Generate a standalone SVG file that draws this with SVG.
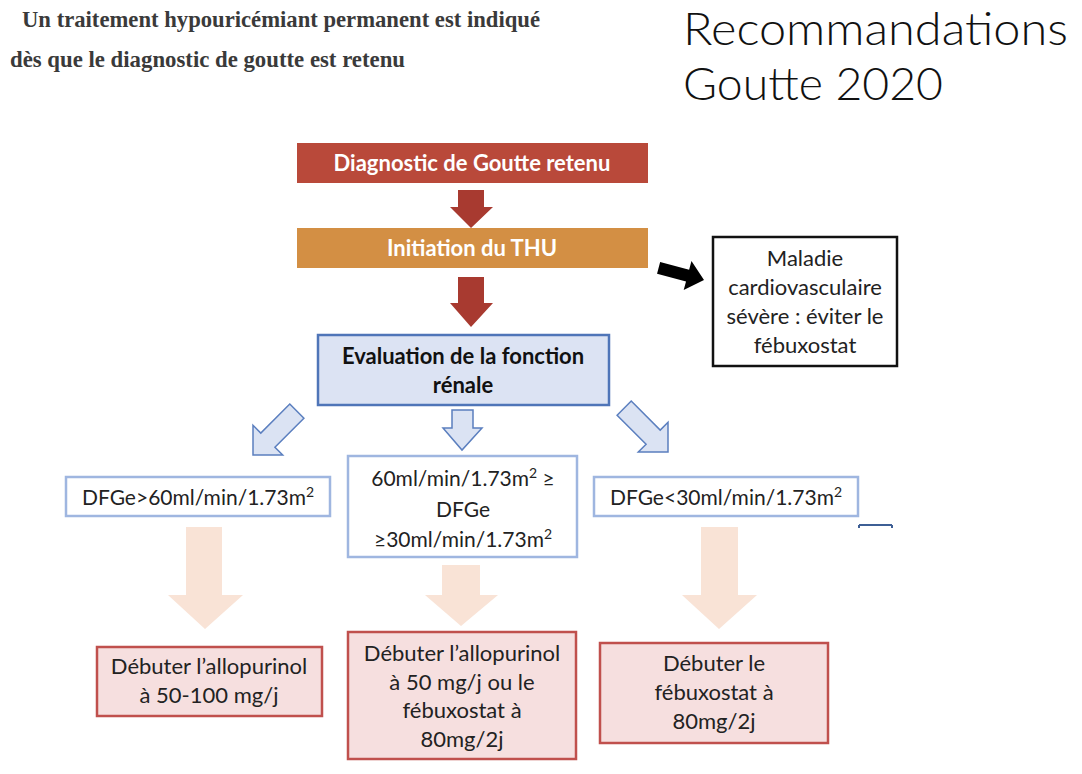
<svg xmlns="http://www.w3.org/2000/svg" width="1082" height="774" viewBox="0 0 1082 774">
<defs>
<style>
.serif{font-family:"Liberation Serif","DejaVu Serif",serif;font-weight:bold;fill:#3a3a3a;font-size:22.5px}
.title{font-family:Lato,"Open Sans",sans-serif;font-weight:300;font-size:46px;fill:#111}
.t{font-family:Lato,"Open Sans",sans-serif;font-size:22px;fill:#222;text-anchor:middle}
.d{font-family:Lato,"Open Sans",sans-serif;font-size:21px;fill:#222;text-anchor:middle}
.w{font-family:Lato,"Open Sans",sans-serif;font-size:22px;fill:#fff;text-anchor:middle;font-weight:bold}
.b{font-family:Lato,"Open Sans",sans-serif;font-size:22px;fill:#111;text-anchor:middle;font-weight:bold}
.blueArrow{fill:#dbe3f3;stroke:#5b7fbf;stroke-width:1.5;stroke-linejoin:miter}
.peach{fill:#f9e3d6}
.redArrow{fill:#a83a30}
.dfg{fill:#fff;stroke:#9fb6e0;stroke-width:2.5}
.res{fill:#f6dfdf;stroke:#c0504d;stroke-width:2.5}
</style>
</defs>
<rect width="1082" height="774" fill="#fff"/>

<g id="header">
<text class="serif" x="22" y="27" textLength="518" lengthAdjust="spacingAndGlyphs">Un traitement hypouricémiant permanent est indiqué</text>
<text class="serif" x="10" y="67" textLength="395" lengthAdjust="spacingAndGlyphs">dès que le diagnostic de goutte est retenu</text>
<text class="title" x="683" y="45" textLength="385" lengthAdjust="spacingAndGlyphs">Recommandations</text>
<text class="title" x="683" y="100" textLength="260" lengthAdjust="spacingAndGlyphs">Goutte 2020</text>
</g>

<g id="connectors">
<polygon class="redArrow" points="458,190 484,190 484,207 493,207 471,228 450,207 458,207"/>
<polygon class="redArrow" points="458,277 484,277 484,303 493,303 471,327 450,303 458,303"/>
<g transform="translate(704,280) rotate(15)">
<polygon fill="#000" points="-47,-6 -17,-6 -17,-15 0,0 -17,15 -17,6 -47,6"/>
</g>
<g transform="translate(253,455) rotate(45)">
<polygon class="blueArrow" points="-10,-62 10,-62 10,-21 21,-21 0,0 -21,-21 -10,-21"/>
</g>
<polygon class="blueArrow" points="452,410 473,410 473,428 482,428 462,450 443,428 452,428"/>
<g transform="translate(668,452) rotate(-45)">
<polygon class="blueArrow" points="-10,-62 10,-62 10,-21 21,-21 0,0 -21,-21 -10,-21"/>
</g>
<polygon class="peach" points="186,527 222,527 222,595 243,595 205,629 168,595 186,595"/>
<polygon class="peach" points="442,565 480,565 480,595 498,595 461,626 425,595 442,595"/>
<polygon class="peach" points="701,527 738,527 738,595 757,595 719,629 682,595 701,595"/>
</g>

<g id="n-diagnostic">
<rect x="297" y="143" width="351" height="40" fill="#b9493a"/>
<text class="w" x="472" y="171">Diagnostic de Goutte retenu</text>
</g>

<g id="n-initiation">
<rect x="297" y="228" width="351" height="40" fill="#d38f44"/>
<text class="w" x="472" y="256">Initiation du THU</text>
</g>

<g id="n-evaluation">
<rect x="318" y="335" width="291" height="70" fill="#dce3f3" stroke="#4f75b8" stroke-width="2.5"/>
<text class="b" x="463" y="364">Evaluation de la fonction</text>
<text class="b" x="463" y="393">rénale</text>
</g>

<g id="n-maladie">
<rect x="713" y="237" width="184" height="129" fill="#fff" stroke="#111" stroke-width="2.5"/>
<text class="t" x="805" y="266">Maladie</text>
<text class="t" x="805" y="295">cardiovasculaire</text>
<text class="t" x="805" y="324">sévère : éviter le</text>
<text class="t" x="805" y="353">fébuxostat</text>
</g>

<g id="n-dfg60">
<rect class="dfg" x="66" y="477" width="264" height="39"/>
<text class="d" x="198" y="505">DFGe&gt;60ml/min/1.73m<tspan font-size="14" dy="-8">2</tspan></text>
</g>

<g id="n-dfg30-60">
<rect class="dfg" x="348" y="456" width="229" height="101"/>
<text class="d" x="463" y="486">60ml/min/1.73m<tspan font-size="14" dy="-8">2</tspan><tspan dy="8"> ≥</tspan></text>
<text class="d" x="463" y="517">DFGe</text>
<text class="d" x="463" y="547">≥30ml/min/1.73m<tspan font-size="14" dy="-8">2</tspan></text>
</g>

<g id="n-dfg30">
<rect class="dfg" x="594" y="477" width="264" height="39"/>
<text class="d" x="726" y="505">DFGe&lt;30ml/min/1.73m<tspan font-size="14" dy="-8">2</tspan></text>
</g>

<g id="fragment">
<path d="M859,525 H892 M859,525 V528 M892,525 V528" fill="none" stroke="#3e5f95" stroke-width="2"/>
</g>

<g id="n-res1">
<rect class="res" x="97" y="647" width="225" height="69"/>
<text class="t" x="209" y="674">Débuter l’allopurinol</text>
<text class="t" x="209" y="703">à 50-100 mg/j</text>
</g>

<g id="n-res2">
<rect class="res" x="348" y="632" width="228" height="127"/>
<text class="t" x="462" y="661">Débuter l’allopurinol</text>
<text class="t" x="462" y="690">à 50 mg/j ou le</text>
<text class="t" x="462" y="718">fébuxostat à</text>
<text class="t" x="462" y="747">80mg/2j</text>
</g>

<g id="n-res3">
<rect class="res" x="600" y="643" width="228" height="100"/>
<text class="t" x="714" y="671">Débuter le</text>
<text class="t" x="714" y="700">fébuxostat à</text>
<text class="t" x="714" y="729">80mg/2j</text>
</g>
</svg>
